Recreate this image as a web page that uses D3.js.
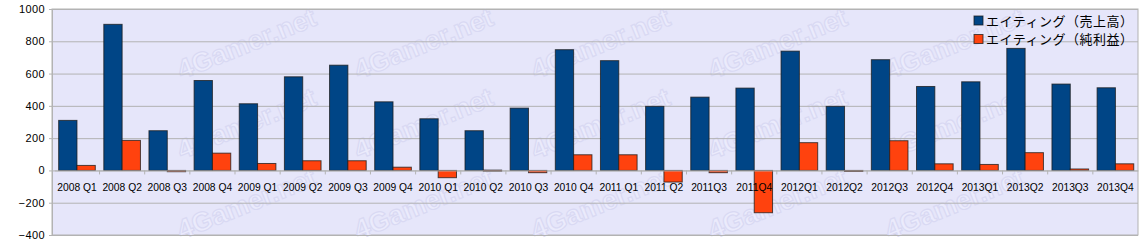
<!DOCTYPE html>
<html>
<head>
<meta charset="utf-8">
<script src="https://cdn.jsdelivr.net/npm/d3@7"></script>
<style>
  body { margin: 0; background: #fff; }
  svg text { font-family: "Liberation Sans", Arial, sans-serif; }
</style>
</head>
<body>
<svg id="chart" width="1146" height="249"></svg>
<script>
// quarters and values
var quarters = ["2008 Q1","2008 Q2","2008 Q3","2008 Q4","2009 Q1","2009 Q2","2009 Q3","2009 Q4",
                "2010 Q1","2010 Q2","2010 Q3","2010 Q4","2011 Q1","2011 Q2","2011Q3","2011Q4",
                "2012Q1","2012Q2","2012Q3","2012Q4","2013Q1","2013Q2","2013Q3","2013Q4"];
var sales  = [310,905,246,557,413,580,652,425,320,246,386,748,680,397,454,510,739,397,686,520,549,756,535,512];
var profit = [31,186,-8,107,43,60,60,20,-45,2,-14,97,97,-72,-14,-262,172,-2,184,41,37,110,9,41];
var seriesNames = ["エイティング（売上高）","エイティング（純利益）"];
var yTicks = [-400,-200,0,200,400,600,800,1000];

var colors = ["#004586","#ff420e"];

var svg = d3.select("#chart");
var plotL = 52, plotR = 1138, plotT = 9, plotB = 235;

var y = d3.scaleLinear().domain([-400,1000]).range([plotB, plotT]);
var x = d3.scaleBand().domain(quarters).range([54.4, plotR]).paddingInner(0).paddingOuter(0);
var xs = d3.scaleBand().domain([0,1]).range([0, x.bandwidth()]).paddingOuter(0.232).paddingInner(0);

// plot background
svg.append("rect")
    .attr("x", plotL).attr("y", plotT)
    .attr("width", plotR-plotL).attr("height", plotB-plotT)
    .attr("fill", "#e6e6fa")
    .attr("stroke", "#b3b3b3");

// watermark (only the ones that sit fully inside the plot)
var wm = svg.append("g");
for (let c=0;c<5;c++){
    for (let r=0;r<3;r++){
        wm.append("text")
            .attr("transform","translate("+(250+c*177)+","+(52+r*80)+") rotate(-22)")
            .attr("text-anchor","middle")
            .style("font-size","27px")
            .style("font-weight","bold")
            .style("fill","#ebebfc")
            .style("stroke","#d9d9f3")
            .style("stroke-width","1.2px")
            .text("4Gamer.net");
    }
}

// gridlines
svg.append("g")
    .attr("transform","translate("+plotL+",0)")
    .call(d3.axisLeft(y).tickValues(yTicks).tickSize(-(plotR-plotL)).tickFormat(""))
    .call(g => g.select(".domain").remove())
    .call(g => g.selectAll("line").attr("stroke","#b3b3b3"));

// y axis
var yAxis = svg.append("g")
    .attr("transform","translate("+plotL+",0)")
    .call(d3.axisLeft(y).tickValues(yTicks).tickSize(3).tickPadding(4).tickFormat(d3.format("d")));
yAxis.select(".domain").attr("stroke","#b3b3b3");
yAxis.selectAll("line").attr("stroke","#b3b3b3");
yAxis.selectAll("text").style("font-size","11px").attr("fill","#000")
    .style("letter-spacing","0.4px");

// bars
var groups = svg.selectAll(".q").data(quarters).enter().append("g")
    .attr("transform", d => "translate("+x(d)+",0)");
[sales, profit].forEach(function(vals, s){
    groups.append("rect")
        .attr("x", xs(s))
        .attr("width", xs.bandwidth())
        .attr("y", (d,i) => y(Math.max(0, vals[i])))
        .attr("height", (d,i) => Math.max(1, Math.abs(y(vals[i]) - y(0))))
        .attr("fill", colors[s])
        .attr("stroke", "#1a1a1a")
        .attr("stroke-width", 1)
        .attr("stroke-opacity", 0.75);
});

// category axis on zero line
var xAxis = svg.append("g")
    .attr("transform","translate(0,"+y(0)+")")
    .call(d3.axisBottom(x).tickSize(0).tickPadding(13));
xAxis.select(".domain").attr("stroke","#b3b3b3");
xAxis.selectAll("text").style("font-size","10.3px").attr("fill","#000");
svg.append("g").selectAll("line").data(quarters.slice(1)).enter().append("line")
    .attr("x1", d => x(d)).attr("x2", d => x(d))
    .attr("y1", y(0)).attr("y2", y(0)+4)
    .attr("stroke","#b3b3b3");

// legend
var legend = svg.append("g").attr("transform","translate(974,16)");
seriesNames.forEach(function(n,i){
    var g = legend.append("g").attr("transform","translate(0,"+(i*18.5)+")");
    g.append("rect").attr("width",9).attr("height",9)
        .attr("fill",colors[i]).attr("stroke","#1a1a1a").attr("stroke-opacity",0.75);
    g.append("text").attr("x",12).attr("y",9.8)
        .style("font-family","'Noto Sans CJK JP', sans-serif")
        .style("font-size","13px")
        .style("letter-spacing","0.5px")
        .attr("fill","#000")
        .text(n);
});
</script>
</body>
</html>
